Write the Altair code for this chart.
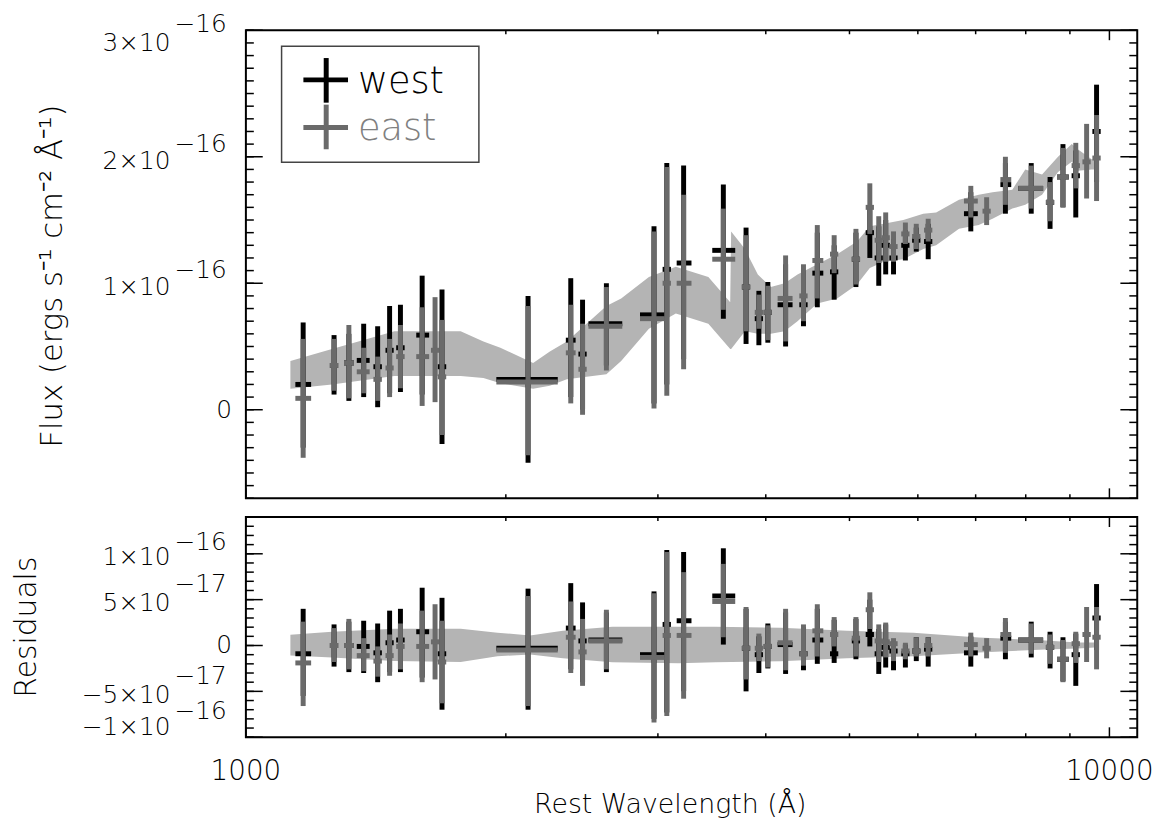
import altair as alt
import pandas as pd

FONT = "DejaVu Sans"
FW = 200

# ---------------- data ----------------
wave    = [1165, 1265, 1316, 1369, 1421, 1467, 1510, 1600, 1656, 1687,
           2122, 2378, 2454, 2615, 2969, 3072, 3213, 3572, 3795, 3927,
           4022, 4217, 4423, 4589, 4800, 5087, 5279, 5406, 5507, 5623,
           5804, 5975, 6168, 6910, 7208, 7578, 8118, 8536, 8835, 9142,
           9410, 9663]
wave_lo = [1141, 1251, 1299, 1344, 1405, 1451, 1493, 1575, 1638, 1668,
           1950, 2347, 2427, 2493, 2860, 3038, 3154, 3468, 3753, 3884,
           3978, 4128, 4374, 4529, 4747, 5031, 5221, 5347, 5446, 5561,
           5740, 5909, 6100, 6785, 7129, 7477, 7841, 8442, 8696, 9041,
           9306, 9556]
wave_hi = [1190, 1279, 1334, 1391, 1437, 1483, 1527, 1630, 1674, 1706,
           2297, 2409, 2481, 2728, 3055, 3106, 3281, 3687, 3837, 3970,
           4066, 4296, 4472, 4663, 4853, 5143, 5337, 5465, 5568, 5685,
           5868, 6041, 6236, 7040, 7287, 7697, 8380, 8630, 8974, 9243,
           9514, 9770]

# flux in units of 1e-16 erg/s/cm2/A
west_flux    = [0.20, 0.35, 0.37, 0.39, 0.34, 0.47, 0.49, 0.59, None, 0.34,
                0.24, 0.55, 0.44, 0.68, 0.75, 1.11, 1.16, 1.26, 0.97, 0.72,
                0.77, 0.83, 0.83, 1.08, 1.09, 1.19, 1.40, 1.20, 1.30, 1.20,
                1.30, 1.34, 1.33, 1.55, None, 1.78, 1.75, 1.64, 1.84, 1.85,
                None, 2.20]
west_flux_lo = [-0.30, 0.12, 0.07, 0.10, 0.02, 0.13, 0.14, 0.12, None, -0.27,
                -0.42, 0.10, 0.00, 0.35, 0.05, 0.20, 0.40, 0.72, 0.52, 0.51,
                0.53, 0.50, 0.66, 0.81, 0.87, 0.97, 1.20, 0.98, 1.07, 1.07,
                1.18, 1.25, 1.19, 1.41, None, 1.55, 1.55, 1.43, 1.60, 1.52,
                None, 1.80]
west_flux_hi = [0.69, 0.59, 0.60, 0.68, 0.66, 0.82, 0.83, 1.06, None, 0.95,
                0.90, 1.04, 0.87, 1.00, 1.45, 1.95, 1.93, 1.78, 1.44, 0.94,
                1.01, 1.15, 1.10, 1.40, 1.30, 1.40, 1.60, 1.45, 1.50, 1.35,
                1.42, 1.44, 1.47, 1.72, None, 1.95, 1.95, 1.84, 2.10, 2.05,
                None, 2.57]
east_flux    = [0.09, 0.35, 0.37, 0.30, 0.24, 0.33, 0.42, 0.42, 0.47, 0.26,
                0.22, 0.45, 0.32, 0.66, 0.72, 1.00, 1.00, 1.19, 0.97, 0.77,
                0.77, 0.88, 0.90, 1.18, 1.23, 1.19, 1.60, 1.34, 1.36, 1.29,
                1.39, 1.37, 1.42, 1.65, 1.57, 1.82, 1.75, 1.64, 1.84, 1.93,
                1.96, 1.99]
east_flux_lo = [-0.38, 0.15, 0.09, 0.13, 0.07, 0.10, 0.17, 0.03, 0.06, -0.20,
                -0.36, 0.05, -0.04, 0.31, 0.01, 0.11, 0.32, 0.79, 0.62, 0.64,
                0.55, 0.54, 0.70, 0.88, 1.08, 0.99, 1.39, 1.16, 1.17, 1.17,
                1.31, 1.27, 1.33, 1.52, 1.46, 1.62, 1.59, 1.49, 1.60, 1.75,
                1.67, 1.65]
east_flux_hi = [0.56, 0.56, 0.67, 0.49, 0.42, 0.56, 0.67, 0.81, 0.89, 0.71,
                0.82, 0.83, 0.68, 0.97, 1.41, 1.92, 1.70, 1.59, 1.38, 0.91,
                0.98, 1.22, 1.15, 1.46, 1.38, 1.43, 1.79, 1.53, 1.56, 1.41,
                1.48, 1.47, 1.51, 1.77, 1.68, 2.00, 1.93, 1.80, 2.07, 2.11,
                2.26, 2.33]

# residuals in units of 1e-17
west_res    = [-0.9, 0.0, 0.0, -0.1, -0.8, 0.3, 0.6, 1.5, None, -0.9,
               -0.3, 1.9, 0.5, 0.6, -1.0, 2.3, 2.7, 5.4, -0.3, -1.0,
               -0.1, 0.1, -0.9, 0.6, -0.9, 0.5, 1.2, -0.9, -0.2, -0.6,
               -0.9, -0.6, -0.4, -0.8, None, 0.8, 0.6, -0.2, -1.5, -1.0,
               None, 3.0]
west_res_lo = [-5.5, -2.3, -2.9, -3.0, -4.0, -2.9, -2.9, -3.5, None, -7.0,
               -7.0, -2.6, -4.0, -2.9, -8.0, -7.3, -5.0, 0.1, -5.0, -3.0,
               -2.5, -3.1, -2.7, -2.0, -1.9, -1.5, -0.1, -3.1, -2.4, -2.7,
               -2.4, -1.7, -2.3, -2.3, None, -1.5, -1.3, -2.5, -3.9, -4.4,
               None, -0.5]
west_res_hi = [4.0, 2.3, 2.6, 2.7, 2.4, 3.8, 4.0, 6.3, None, 5.2,
               6.2, 6.8, 4.7, 3.6, 5.9, 10.4, 10.2, 10.6, 4.0, 1.0,
               2.4, 3.6, 2.0, 4.0, 2.8, 2.9, 5.0, 1.8, 2.3, 0.5,
               0.1, 0.9, 0.9, 1.0, None, 2.6, 2.6, 1.5, 0.9, 1.3,
               None, 6.7]
east_res    = [-1.9, 0.0, 0.0, -1.1, -1.7, -1.1, -0.1, -0.1, 0.4, -1.8,
               -0.5, 0.9, -0.7, 0.5, -1.3, 1.1, 1.1, 4.8, -0.3, -0.3,
               -0.1, 0.3, -0.9, 1.6, 1.2, 0.8, 3.9, 0.5, 0.4, 0.2,
               -0.6, -0.6, 0.0, 0.1, -0.3, 1.2, 0.6, -0.2, -1.5, 0.2,
               1.2, 0.9]
east_res_lo = [-6.6, -1.8, -2.6, -2.8, -3.4, -3.3, -2.6, -4.0, -3.7, -6.3,
               -6.6, -3.0, -4.4, -2.6, -8.4, -7.7, -5.8, 0.9, -3.7, -1.7,
               -2.4, -2.7, -2.2, -1.2, -0.1, -1.2, 1.8, -1.8, -1.3, -1.7,
               -1.5, -1.2, -1.2, -1.2, -1.4, -0.8, -0.9, -2.0, -4.0, -1.9,
               -1.8, -2.6]
east_res_hi = [2.6, 1.9, 2.9, 0.8, -0.1, 1.2, 2.4, 3.8, 4.5, 2.7,
               5.4, 4.8, 2.9, 3.9, 5.7, 10.2, 8.0, 8.9, 4.2, 1.3,
               2.2, 4.0, 2.3, 4.5, 3.1, 3.1, 5.8, 2.3, 2.5, 0.8,
               0.3, 0.9, 0.9, 1.4, 0.8, 3.0, 2.4, 1.2, 0.6, 1.5,
               4.2, 4.2]

# model band (top panel, 1e-16)
band_wave = [1126, 1258, 1486, 1773, 1884, 1971, 2151, 2249, 2353, 2615,
             2720, 2929, 3147, 3432, 3638, 3647, 3784, 3916, 4054, 4206,
             4353, 4589, 4838, 5101, 5279, 5478, 5772, 6087, 6300, 6696,
             7058, 7322, 7719, 7990, 8356, 8719, 9045, 9191, 9537, 9688]
band_lo   = [0.165, 0.20, 0.267, 0.267, 0.25, 0.21, 0.165, 0.19, 0.24, 0.28,
             0.385, 0.64, 0.76, 0.68, 0.48, 0.48, 0.62, 0.60, 0.60, 0.62,
             0.70, 0.84, 0.88, 0.99, 1.12, 1.17, 1.19, 1.27, 1.30, 1.43,
             1.46, 1.51, 1.59, 1.62, 1.70, 1.88, 1.96, 1.89, 1.90, 1.90]
band_hi   = [0.385, 0.48, 0.62, 0.62, 0.54, 0.49, 0.37, 0.46, 0.54, 0.82,
             0.88, 1.05, 1.13, 1.05, 0.85, 1.41, 1.27, 1.07, 0.97, 1.00,
             1.07, 1.15, 1.23, 1.33, 1.45, 1.47, 1.50, 1.55, 1.56, 1.66,
             1.70, 1.72, 1.74, 1.90, 1.86, 2.00, 2.10, 2.06, 1.98, 1.98]

# residual band (bottom panel, 1e-17)
rband_wave = [1126, 1258, 1486, 1773, 1956, 2134, 2328, 2657, 3172, 3496,
              4162, 4967, 5928, 7058, 8423, 9191, 9612, 9688]
rband_lo   = [-1.08, -1.3, -1.7, -1.8, -1.18, -0.97, -1.4, -1.83, -1.94, -1.83,
              -1.72, -1.4, -1.18, -0.75, -0.43, -0.33, -0.22, -0.2]
rband_hi   = [1.18, 1.5, 1.83, 1.83, 1.4, 1.08, 1.6, 2.04, 2.04, 2.04,
              1.94, 1.6, 1.4, 0.86, 0.54, 0.33, 0.33, 0.3]

# axis ticks / labels
x_major = [1000, 10000]
x_major_labels = ["1000", "10000"]
x_minor = [2000, 3000, 4000, 5000, 6000, 7000, 8000, 9000]
flux_major = [0, 1, 2, 3]
flux_minor = [round(-0.7 + 0.1 * i, 1) for i in range(38)]
res_major = [-10, -5, 0, 5, 10]
res_minor = list(range(-10, 15))
# (value, mantissa, exponent, dy mantissa, dy exponent)
flux_labels = [(3, "3×10", "−16", 13, -6), (2, "2×10", "−16", 4, -13),
               (1, "1×10", "−16", 4, -13), (0, "0", "", 0, 0)]
res_labels = [(10, "1×10", "−16", 3, -12), (5, "5×10", "−17", 3, -16),
              (0, "0", "", 0, 0), (-5, "−5×10", "−17", 4, -15),
              (-10, "−1×10", "−16", -10, -26)]
flux_title = "Flux (ergs s⁻¹ cm⁻² Å⁻¹)"
res_title = "Residuals"
x_title = "Rest Wavelength (Å)"

# ---------------- chart ----------------
W, H1, H2 = 899, 472, 222
WEST, EAST, BAND = "#000000", "#6a6a6a", "#b4b4b4"
xscale = alt.Scale(type="log", domain=[1000, 10770], nice=False)
y1scale = alt.Scale(domain=[-0.7, 3.0], nice=False, zero=False)
y2scale = alt.Scale(domain=[-10, 14], nice=False, zero=False)
one = pd.DataFrame({"k": [0]})


def txt(**kw):
    base = dict(font=FONT, fontWeight=FW, color="black")
    base.update(kw)
    return base


def points_df(y, lo, hi):
    rows = []
    for i in range(len(wave)):
        if y[i] is None:
            continue
        rows.append(dict(wave=wave[i], wlo=wave_lo[i], whi=wave_hi[i],
                         y=y[i], ylo=lo[i], yhi=hi[i]))
    return pd.DataFrame(rows)


def errbars(df, color, yscale):
    base = alt.Chart(df)
    v = base.mark_rule(color=color, strokeWidth=5, strokeCap="butt").encode(
        x=alt.X("wave:Q", scale=xscale, axis=None),
        y=alt.Y("ylo:Q", scale=yscale, axis=None),
        y2="yhi:Q")
    h = base.mark_rule(color=color, strokeWidth=5, strokeCap="butt").encode(
        x=alt.X("wlo:Q", scale=xscale, axis=None),
        x2="whi:Q",
        y=alt.Y("y:Q", scale=yscale, axis=None))
    return [v, h]


def frame_ticks(H, yscale, ymajor, yminor):
    layers = []
    for vals, L in ((x_major, 10), (x_minor, 4)):
        d = pd.DataFrame({"v": vals})
        for y0, y1 in ((H, H - L), (0, L)):
            layers.append(alt.Chart(d).mark_rule(color="black", strokeWidth=1.5).encode(
                x=alt.X("v:Q", scale=xscale, axis=None),
                y=alt.value(y0), y2=alt.value(y1)))
    for vals, L in ((ymajor, 17), (yminor, 8)):
        d = pd.DataFrame({"v": vals})
        for x0, x1 in ((0, L), (W, W - L)):
            layers.append(alt.Chart(d).mark_rule(color="black", strokeWidth=1.5).encode(
                y=alt.Y("v:Q", scale=yscale, axis=None),
                x=alt.value(x0), x2=alt.value(x1)))
    return layers


def ylabels(specs, yscale):
    layers = []
    for val, mant, expo, dym, dye in specs:
        d = pd.DataFrame({"v": [val], "m": [mant], "e": [expo]})
        if expo:
            layers.append(alt.Chart(d).mark_text(**txt(
                align="right", baseline="middle", dy=dym, fontSize=25)).encode(
                x=alt.value(-76), y=alt.Y("v:Q", scale=yscale, axis=None), text="m:N"))
            layers.append(alt.Chart(d).mark_text(**txt(
                align="left", baseline="middle", dy=dye, fontSize=25)).encode(
                x=alt.value(-72), y=alt.Y("v:Q", scale=yscale, axis=None), text="e:N"))
        else:
            layers.append(alt.Chart(d).mark_text(**txt(
                align="right", baseline="middle", dy=dym, fontSize=25)).encode(
                x=alt.value(-14), y=alt.Y("v:Q", scale=yscale, axis=None), text="m:N"))
    return layers


# top panel
band_df = pd.DataFrame({"wave": band_wave, "lo": band_lo, "hi": band_hi})
band_top = alt.Chart(band_df).mark_area(color=BAND).encode(
    x=alt.X("wave:Q", scale=xscale, axis=None),
    y=alt.Y("lo:Q", scale=y1scale, axis=None),
    y2="hi:Q")

flux_title_mark = alt.Chart(one).mark_text(**txt(
    text=flux_title, angle=270, align="center", baseline="middle", fontSize=31)).encode(
    x=alt.value(-194), y=alt.value(248))

legend = [
    alt.Chart(one).mark_rect(fill="white", fillOpacity=0, stroke="#444", strokeWidth=1.5).encode(
        x=alt.value(36), x2=alt.value(235), y=alt.value(16), y2=alt.value(133)),
    alt.Chart(one).mark_rule(color=WEST, strokeWidth=5).encode(
        x=alt.value(58), x2=alt.value(103), y=alt.value(50)),
    alt.Chart(one).mark_rule(color=WEST, strokeWidth=5).encode(
        x=alt.value(81), y=alt.value(28), y2=alt.value(73)),
    alt.Chart(one).mark_rule(color=EAST, strokeWidth=5).encode(
        x=alt.value(58), x2=alt.value(103), y=alt.value(98)),
    alt.Chart(one).mark_rule(color=EAST, strokeWidth=5).encode(
        x=alt.value(81), y=alt.value(75), y2=alt.value(120)),
    alt.Chart(one).mark_text(**txt(text="west", align="left", baseline="alphabetic",
                                   fontSize=37)).encode(x=alt.value(113), y=alt.value(63)),
    alt.Chart(one).mark_text(**txt(text="east", align="left", baseline="alphabetic",
                                   fontSize=37, color="#808080")).encode(
        x=alt.value(113), y=alt.value(111)),
]

top = alt.layer(
    band_top,
    *errbars(points_df(west_flux, west_flux_lo, west_flux_hi), WEST, y1scale),
    *errbars(points_df(east_flux, east_flux_lo, east_flux_hi), EAST, y1scale),
    *frame_ticks(H1, y1scale, flux_major, flux_minor),
    *ylabels(flux_labels, y1scale),
    flux_title_mark,
    *legend,
).properties(width=W, height=H1)

# bottom panel
rband_df = pd.DataFrame({"wave": rband_wave, "lo": rband_lo, "hi": rband_hi})
band_bot = alt.Chart(rband_df).mark_area(color=BAND).encode(
    x=alt.X("wave:Q", scale=xscale, axis=None),
    y=alt.Y("lo:Q", scale=y2scale, axis=None),
    y2="hi:Q")

res_title_mark = alt.Chart(one).mark_text(**txt(
    text=res_title, angle=270, align="center", baseline="middle", fontSize=30)).encode(
    x=alt.value(-221), y=alt.value(111))

xlab_df = pd.DataFrame({"v": x_major, "t": x_major_labels})
xlabels = alt.Chart(xlab_df).mark_text(**txt(align="center", baseline="middle", fontSize=28)).encode(
    x=alt.X("v:Q", scale=xscale, axis=None), y=alt.value(H2 + 35), text="t:N")
x_title_mark = alt.Chart(one).mark_text(**txt(
    text=x_title, align="center", baseline="middle", fontSize=27)).encode(
    x=alt.value(428), y=alt.value(H2 + 68))

bottom = alt.layer(
    band_bot,
    *errbars(points_df(west_res, west_res_lo, west_res_hi), WEST, y2scale),
    *errbars(points_df(east_res, east_res_lo, east_res_hi), EAST, y2scale),
    *frame_ticks(H2, y2scale, res_major, res_minor),
    *ylabels(res_labels, y2scale),
    res_title_mark,
    xlabels,
    x_title_mark,
).properties(width=W, height=H2)

chart = alt.vconcat(top, bottom, spacing=15).properties(
    padding={"left": 11, "top": 8, "right": 10, "bottom": 4},
    background="white",
).configure_view(stroke="black", strokeWidth=2)

chart.save("out.html", embed_options={"renderer": "svg", "actions": False})
